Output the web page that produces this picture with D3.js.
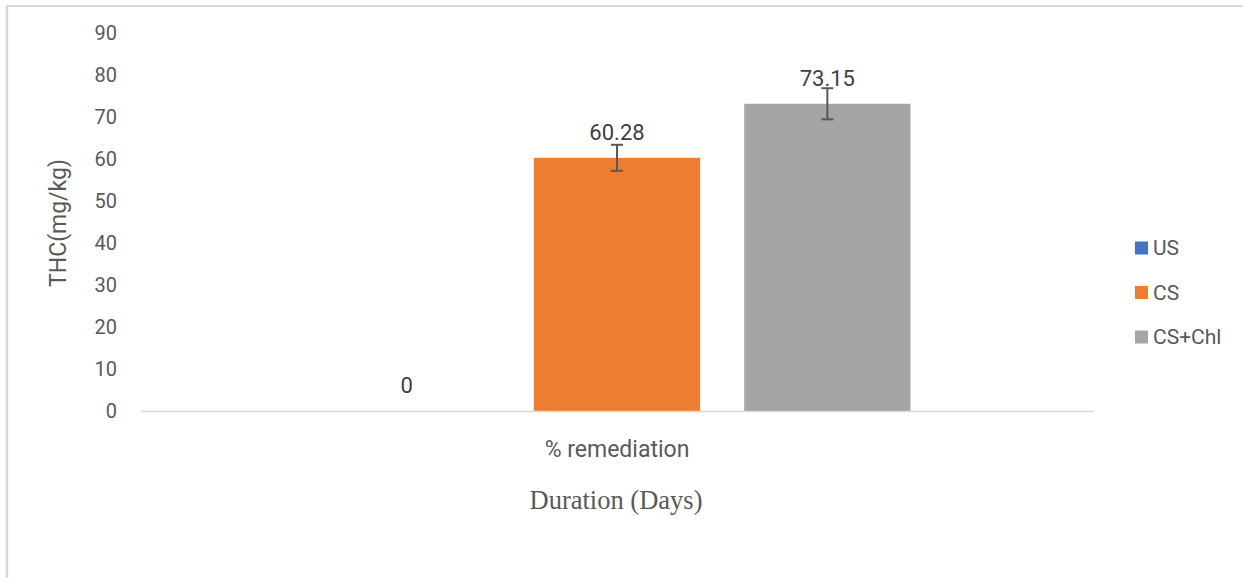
<!DOCTYPE html>
<html><head><meta charset="utf-8">
<script src="https://cdn.jsdelivr.net/npm/d3@7"></script>
<style>body{margin:0;background:#fff}svg{display:block}</style>
</head><body><svg id="c" width="1244" height="578"></svg>
<script>
const categories = ["% remediation"];
const series = ["US", "CS", "CS+Chl"];
const values = [0, 60.28, 73.15];
const errors = [0, 3.1, 3.7];
const labels = ["0", "60.28", "73.15"];
const colors = ["#4472C4", "#ED7D31", "#A5A5A5"];
const yTicks = [0,10,20,30,40,50,60,70,80,90];

const svg = d3.select("#c");
// border
svg.append("line").attr("x1",7).attr("x2",1243).attr("y1",6).attr("y2",6).attr("stroke","#d9d9d9").attr("stroke-width",2);
svg.append("line").attr("x1",7).attr("x2",7).attr("y1",5).attr("y2",578).attr("stroke","#d9d9d9").attr("stroke-width",2.5);

const x0 = d3.scaleBand().domain(categories).range([141,1093]).paddingInner(0).paddingOuter((952/587 - 1)/2);
const x1 = d3.scaleBand().domain(series).range([0, x0.bandwidth()]).paddingInner(44/210).paddingOuter(0);
const y = d3.scaleLinear().domain([0,90]).range([411, 33]);

const font = "Roboto, 'Noto Sans', sans-serif";
// y ticks
svg.append("g").selectAll("text").data(yTicks).join("text")
  .attr("x",117).attr("y",d=>y(d)).attr("dy","0.35em").attr("text-anchor","end")
  .attr("font-family",font).attr("font-size",20).attr("fill","#595959").text(d=>d);

// bars
const g = svg.append("g").attr("transform",`translate(${x0(categories[0])},0)`);
g.selectAll("rect").data(values).join("rect")
  .attr("x",(d,i)=>x1(series[i])).attr("width",x1.bandwidth())
  .attr("y",d=>y(d)).attr("height",d=>y(0)-y(d)).attr("fill",(d,i)=>colors[i]);

// error bars
values.forEach((v,i)=>{
  if(!errors[i]) return;
  const cx = x1(series[i]) + x1.bandwidth()/2;
  const eg = g.append("g").attr("stroke","#595959").attr("stroke-width",2);
  eg.append("line").attr("x1",cx).attr("x2",cx).attr("y1",y(v+errors[i])).attr("y2",y(v-errors[i]));
  eg.append("line").attr("x1",cx-6).attr("x2",cx+6).attr("y1",y(v+errors[i])).attr("y2",y(v+errors[i]));
  eg.append("line").attr("x1",cx-6).attr("x2",cx+6).attr("y1",y(v-errors[i])).attr("y2",y(v-errors[i]));
});

// axis line
svg.append("line").attr("x1",141).attr("x2",1093).attr("y1",y(0)+0.5).attr("y2",y(0)+0.5).attr("stroke","#d9d9d9").attr("stroke-width",1.5);

// data labels
g.selectAll("text.dl").data(values).join("text").attr("class","dl")
  .attr("x",(d,i)=>x1(series[i])+x1.bandwidth()/2)
  .attr("y",d=>y(d) - 18)
  .attr("text-anchor","middle").attr("font-family",font).attr("font-size",22).attr("fill","#404040")
  .text((d,i)=>labels[i]);

// category label
svg.append("text").attr("x",x0(categories[0])+x0.bandwidth()/2).attr("y",449).attr("dy","0.35em")
  .attr("text-anchor","middle").attr("font-family",font).attr("font-size",23).attr("fill","#595959").text(categories[0]);

// x axis title
svg.append("text").attr("x",616).attr("y",500).attr("dy","0.35em")
  .attr("text-anchor","middle").attr("font-family","'Liberation Serif', 'Times New Roman', serif").attr("font-size",26.5).attr("fill","#595959").text("Duration (Days)");

// y axis title
svg.append("text").attr("transform","translate(58,223) rotate(-90)").attr("dy","0.35em")
  .attr("text-anchor","middle").attr("font-family",font).attr("font-size",23).attr("fill","#595959").text("THC(mg/kg)");

// legend
const lg = svg.append("g");
series.forEach((s,i)=>{
  const cy = 248 + i*44.5;
  lg.append("rect").attr("x",1135).attr("y",cy-6.5).attr("width",13).attr("height",13).attr("fill",colors[i]);
  lg.append("text").attr("x",1153).attr("y",cy).attr("dy","0.35em").attr("font-family",font).attr("font-size",21).attr("fill","#595959").text(s);
});
</script></body></html>
